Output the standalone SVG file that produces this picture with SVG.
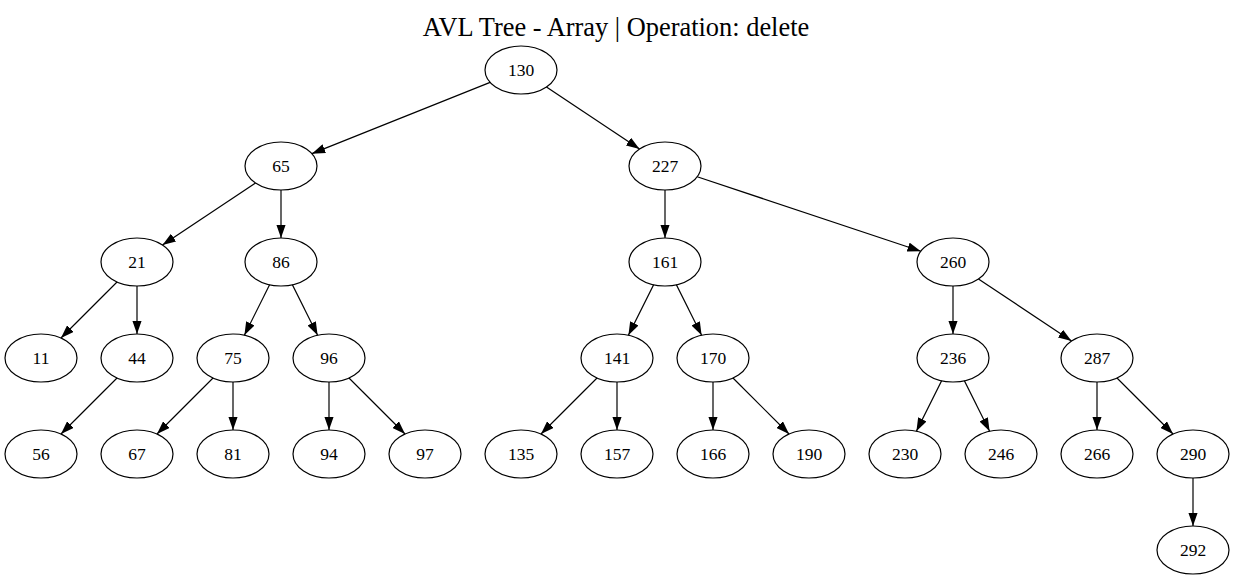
<svg xmlns="http://www.w3.org/2000/svg" width="1235" height="579" viewBox="0 0 1235 579">
<style>
.n ellipse{fill:none;stroke:#000;stroke-width:1.2}
.n text{font-family:"Liberation Serif","Times New Roman",serif;font-size:17.5px;text-anchor:middle;fill:#000}
.e line{stroke:#000;stroke-width:1.2;marker-end:url(#ah)}
.t{font-family:"Liberation Serif","Times New Roman",serif;font-size:26.4px;text-anchor:middle;fill:#000}
</style>
<defs>
<marker id="ah" markerUnits="userSpaceOnUse" viewBox="0 0 13.33 9.33" markerWidth="13.33" markerHeight="9.33" refX="13.33" refY="4.67" orient="auto">
<path d="M0,0 L13.33,4.67 L0,9.33 Z" fill="#000"/>
</marker>
</defs>
<rect width="1235" height="579" fill="#fff"/>
<text class="t" x="616" y="36">AVL Tree - Array | Operation: delete</text>
<g id="connectors" class="e">
<line x1="490.13" y1="82.35" x2="311.87" y2="153.65"/>
<line x1="546.46" y1="86.97" x2="639.54" y2="149.03"/>
<line x1="255.54" y1="182.97" x2="162.46" y2="245.03"/>
<line x1="281" y1="190" x2="281" y2="238"/>
<line x1="665" y1="190" x2="665" y2="238"/>
<line x1="697.2" y1="176.73" x2="920.8" y2="251.27"/>
<line x1="117.03" y1="281.97" x2="60.97" y2="338.03"/>
<line x1="137" y1="286" x2="137" y2="334"/>
<line x1="269.62" y1="284.77" x2="244.38" y2="335.23"/>
<line x1="292.38" y1="284.77" x2="317.62" y2="335.23"/>
<line x1="653.62" y1="284.77" x2="628.38" y2="335.23"/>
<line x1="676.38" y1="284.77" x2="701.62" y2="335.23"/>
<line x1="953" y1="286" x2="953" y2="334"/>
<line x1="978.46" y1="278.97" x2="1071.54" y2="341.03"/>
<line x1="117.03" y1="377.97" x2="60.97" y2="434.03"/>
<line x1="213.03" y1="377.97" x2="156.97" y2="434.03"/>
<line x1="233" y1="382" x2="233" y2="430"/>
<line x1="329" y1="382" x2="329" y2="430"/>
<line x1="348.97" y1="377.97" x2="405.03" y2="434.03"/>
<line x1="597.03" y1="377.97" x2="540.97" y2="434.03"/>
<line x1="617" y1="382" x2="617" y2="430"/>
<line x1="713" y1="382" x2="713" y2="430"/>
<line x1="732.97" y1="377.97" x2="789.03" y2="434.03"/>
<line x1="941.62" y1="380.77" x2="916.38" y2="431.23"/>
<line x1="964.38" y1="380.77" x2="989.62" y2="431.23"/>
<line x1="1097" y1="382" x2="1097" y2="430"/>
<line x1="1116.97" y1="377.97" x2="1173.03" y2="434.03"/>
<line x1="1193" y1="478" x2="1193" y2="526"/>
</g>
<g id="n130" class="n"><ellipse cx="521" cy="70" rx="36" ry="24"/><text x="521" y="76">130</text></g>
<g id="n65" class="n"><ellipse cx="281" cy="166" rx="36" ry="24"/><text x="281" y="172">65</text></g>
<g id="n227" class="n"><ellipse cx="665" cy="166" rx="36" ry="24"/><text x="665" y="172">227</text></g>
<g id="n21" class="n"><ellipse cx="137" cy="262" rx="36" ry="24"/><text x="137" y="268">21</text></g>
<g id="n86" class="n"><ellipse cx="281" cy="262" rx="36" ry="24"/><text x="281" y="268">86</text></g>
<g id="n161" class="n"><ellipse cx="665" cy="262" rx="36" ry="24"/><text x="665" y="268">161</text></g>
<g id="n260" class="n"><ellipse cx="953" cy="262" rx="36" ry="24"/><text x="953" y="268">260</text></g>
<g id="n11" class="n"><ellipse cx="41" cy="358" rx="36" ry="24"/><text x="41" y="364">11</text></g>
<g id="n44" class="n"><ellipse cx="137" cy="358" rx="36" ry="24"/><text x="137" y="364">44</text></g>
<g id="n75" class="n"><ellipse cx="233" cy="358" rx="36" ry="24"/><text x="233" y="364">75</text></g>
<g id="n96" class="n"><ellipse cx="329" cy="358" rx="36" ry="24"/><text x="329" y="364">96</text></g>
<g id="n141" class="n"><ellipse cx="617" cy="358" rx="36" ry="24"/><text x="617" y="364">141</text></g>
<g id="n170" class="n"><ellipse cx="713" cy="358" rx="36" ry="24"/><text x="713" y="364">170</text></g>
<g id="n236" class="n"><ellipse cx="953" cy="358" rx="36" ry="24"/><text x="953" y="364">236</text></g>
<g id="n287" class="n"><ellipse cx="1097" cy="358" rx="36" ry="24"/><text x="1097" y="364">287</text></g>
<g id="n56" class="n"><ellipse cx="41" cy="454" rx="36" ry="24"/><text x="41" y="460">56</text></g>
<g id="n67" class="n"><ellipse cx="137" cy="454" rx="36" ry="24"/><text x="137" y="460">67</text></g>
<g id="n81" class="n"><ellipse cx="233" cy="454" rx="36" ry="24"/><text x="233" y="460">81</text></g>
<g id="n94" class="n"><ellipse cx="329" cy="454" rx="36" ry="24"/><text x="329" y="460">94</text></g>
<g id="n97" class="n"><ellipse cx="425" cy="454" rx="36" ry="24"/><text x="425" y="460">97</text></g>
<g id="n135" class="n"><ellipse cx="521" cy="454" rx="36" ry="24"/><text x="521" y="460">135</text></g>
<g id="n157" class="n"><ellipse cx="617" cy="454" rx="36" ry="24"/><text x="617" y="460">157</text></g>
<g id="n166" class="n"><ellipse cx="713" cy="454" rx="36" ry="24"/><text x="713" y="460">166</text></g>
<g id="n190" class="n"><ellipse cx="809" cy="454" rx="36" ry="24"/><text x="809" y="460">190</text></g>
<g id="n230" class="n"><ellipse cx="905" cy="454" rx="36" ry="24"/><text x="905" y="460">230</text></g>
<g id="n246" class="n"><ellipse cx="1001" cy="454" rx="36" ry="24"/><text x="1001" y="460">246</text></g>
<g id="n266" class="n"><ellipse cx="1097" cy="454" rx="36" ry="24"/><text x="1097" y="460">266</text></g>
<g id="n290" class="n"><ellipse cx="1193" cy="454" rx="36" ry="24"/><text x="1193" y="460">290</text></g>
<g id="n292" class="n"><ellipse cx="1193" cy="550" rx="36" ry="24"/><text x="1193" y="556">292</text></g>
</svg>
